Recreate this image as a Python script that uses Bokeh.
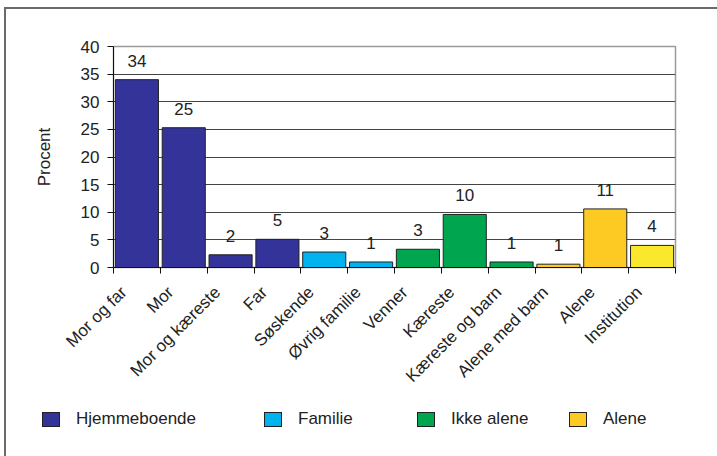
import math
from bokeh.plotting import figure
from bokeh.layouts import column
from bokeh.models import ColumnDataSource, FixedTicker, LabelSet, Range1d, Div
from bokeh.core.properties import value
from bokeh.embed import file_html
from bokeh.resources import INLINE

# Living situation, share in percent
categories = ["Mor og far", "Mor", "Mor og kæreste", "Far", "Søskende",
              "Øvrig familie", "Venner", "Kæreste", "Kæreste og barn",
              "Alene med barn", "Alene", "Institution"]
values = [34.0, 25.3, 2.3, 5.1, 2.8, 1.0, 3.3, 9.6, 1.0, 0.6, 10.6, 4.0]
groups = ["Hjemmeboende", "Hjemmeboende", "Hjemmeboende", "Hjemmeboende",
          "Familie", "Familie", "Ikke alene", "Ikke alene", "Ikke alene",
          "Alene", "Alene", "Institution"]
y_ticks = [0, 5, 10, 15, 20, 25, 30, 35, 40]

group_colors = {
    "Hjemmeboende": "#333399",
    "Familie": "#00B2EE",
    "Ikke alene": "#00A64F",
    "Alene": "#FDCA24",
    "Institution": "#F9E82B",
}
legend_groups = ["Hjemmeboende", "Familie", "Ikke alene", "Alene"]

FONT = "Liberation Sans"
TEXT = "#222222"

n = len(categories)
centers = [i + 0.5 for i in range(n)]
labels = ["%d" % math.floor(v + 0.5) for v in values]
# rotated category names sit slightly left of the bar centre
label_pos = [c - 0.28 for c in centers]

p = figure(width=711, height=386, output_backend="svg", toolbar_location=None,
           x_range=Range1d(0, n), y_range=Range1d(0, 40),
           min_border_left=107, min_border_right=42, min_border_top=37,
           min_border_bottom=127)
p.margin = 0
p.outline_line_color = "#9a9a9a"
p.outline_line_width = 1.5
p.background_fill_color = "white"
p.border_fill_color = "white"

# bars, one renderer per group
for g in group_colors:
    idx = [i for i in range(n) if groups[i] == g]
    src = ColumnDataSource(dict(x=[centers[i] for i in idx],
                                top=[values[i] for i in idx]))
    p.vbar(x="x", top="top", width=0.92, source=src,
           fill_color=group_colors[g], line_color="#222222", line_width=1)

# value labels above the bars
lab_src = ColumnDataSource(dict(x=centers, y=values, t=labels))
p.add_layout(LabelSet(x="x", y="y", text="t", source=lab_src,
                      text_align="center", text_baseline="alphabetic",
                      y_offset=13, text_font=value(FONT),
                      text_font_size=value("17px"), text_color=TEXT))

# grid
p.xgrid.visible = False
p.ygrid.ticker = FixedTicker(ticks=y_ticks)
p.ygrid.grid_line_color = "#444444"
p.ygrid.grid_line_width = 1
p.ygrid.level = "underlay"

# y axis
p.yaxis.ticker = FixedTicker(ticks=y_ticks)
p.yaxis.axis_label = "Procent"
p.yaxis.axis_label_text_font = FONT
p.yaxis.axis_label_text_font_size = "17px"
p.yaxis.axis_label_text_font_style = "normal"
p.yaxis.axis_label_text_color = TEXT
p.yaxis.axis_label_standoff = 24
p.yaxis.major_label_text_font = FONT
p.yaxis.major_label_text_font_size = "17px"
p.yaxis.major_label_text_color = TEXT
p.yaxis.major_label_standoff = 8
p.yaxis.major_tick_out = 6
p.yaxis.major_tick_in = 0
p.yaxis.minor_tick_line_color = None
p.yaxis.axis_line_color = "#111111"
p.yaxis.major_tick_line_color = "#111111"

# x axis: names under the bars, tick marks at the category boundaries
p.xaxis.ticker = FixedTicker(ticks=label_pos, minor_ticks=list(range(n + 1)))
p.xaxis.major_label_overrides = {c: name for c, name in zip(label_pos, categories)}
p.xaxis.major_label_orientation = math.pi / 4
p.xaxis.major_label_text_font = FONT
p.xaxis.major_label_text_font_size = "17px"
p.xaxis.major_label_text_color = TEXT
p.xaxis.major_label_standoff = 16
p.xaxis.major_tick_line_color = None
p.xaxis.minor_tick_out = 6
p.xaxis.minor_tick_in = 0
p.xaxis.minor_tick_line_color = "#111111"
p.xaxis.axis_line_color = "#111111"

# legend strip below the chart
legend_left = [36, 258, 411, 563]
parts = []
for g, lx in zip(legend_groups, legend_left):
    parts.append(
        '<span style="position:absolute;left:%dpx;top:17px;width:18px;'
        'height:15px;background:%s;border:1px solid #222;"></span>'
        % (lx, group_colors[g]))
    parts.append(
        '<span style="position:absolute;left:%dpx;top:15px;line-height:17px;'
        'white-space:nowrap;">%s</span>' % (lx + 34, g))
legend_html = (
    '<div style="position:relative;width:711px;height:61px;'
    "font-family:'Liberation Sans',Arial,sans-serif;font-size:17px;"
    'color:%s;">%s</div>' % (TEXT, "".join(parts)))
legend_div = Div(text=legend_html, width=711, height=61, margin=0)

layout = column(p, legend_div, spacing=0)
layout.margin = (9, 0, 0, 6)
layout.styles = {"outline": "2px solid #6a6a6a", "background": "white"}

open("out.html", "w").write(file_html(layout, INLINE))
